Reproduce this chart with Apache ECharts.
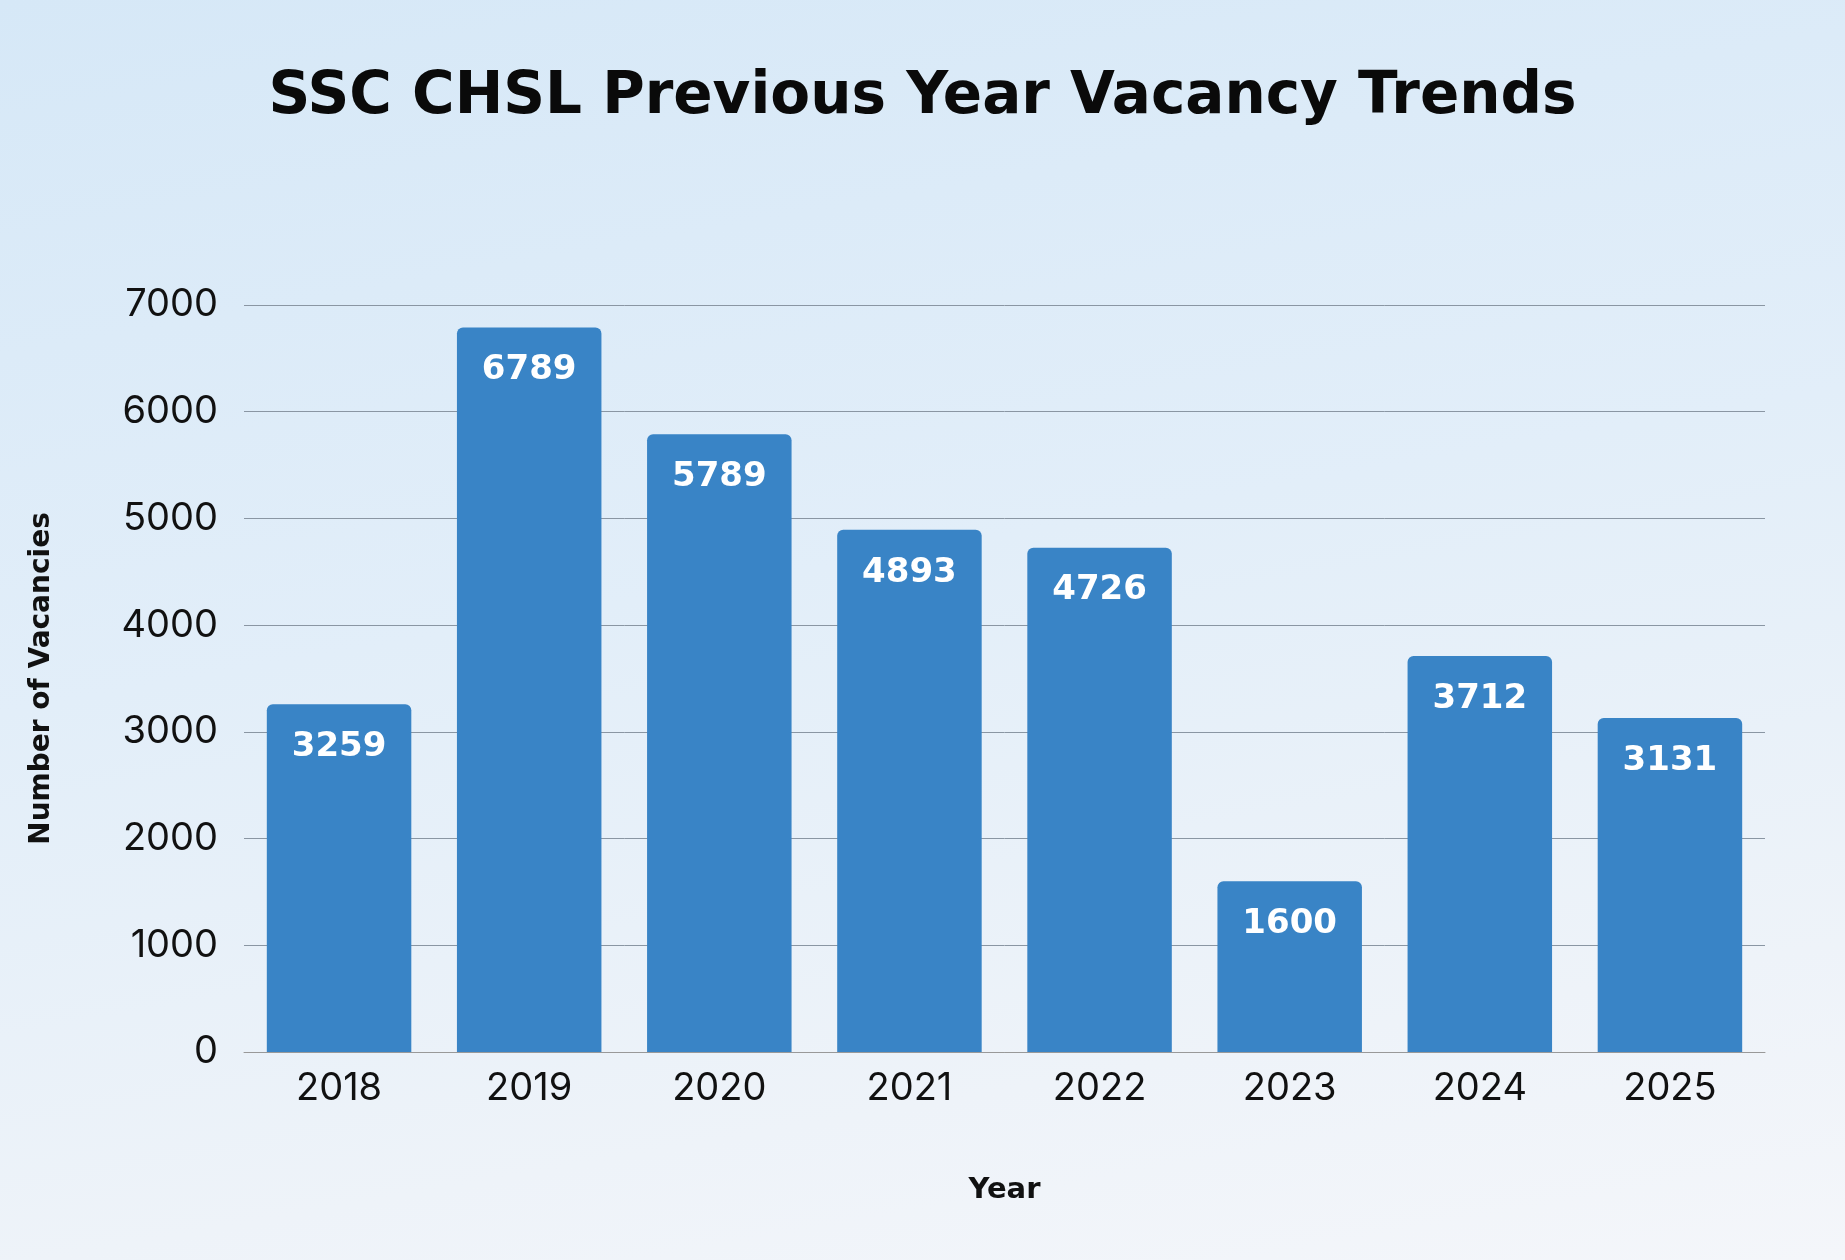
<!DOCTYPE html>
<html>
<head>
<meta charset="utf-8">
<script src="https://cdn.jsdelivr.net/npm/echarts@6/dist/echarts.min.js"></script>
<style>
  html, body { margin: 0; padding: 0; }
  #container {
    width: 1845px; height: 1260px;
    background: linear-gradient(170deg, #d6e8f7 0%, #e2eef9 45%, #eef3f9 80%, #f4f6fa 100%);
  }
</style>
</head>
<body>
<div id="container"></div>
<script>
var years = ['2018', '2019', '2020', '2021', '2022', '2023', '2024', '2025'];
var vacancies = [3259, 6789, 5789, 4893, 4726, 1600, 3712, 3131];

var myChart = echarts.init(document.getElementById('container'));

myChart.setOption({
    title: {
        text: 'SSC CHSL Previous Year Vacancy Trends',
        left: 'center',
        top: 64,
        textStyle: {
            fontFamily: 'DejaVu Sans',
            fontWeight: 'bold',
            fontSize: 58,
            color: '#0a0a0a'
        }
    },
    grid: {
        left: 244,
        right: 80,
        top: 305,
        bottom: 208
    },
    xAxis: {
        type: 'category',
        data: years,
        name: 'Year',
        nameLocation: 'middle',
        nameGap: 124,
        nameTextStyle: {
            fontFamily: 'DejaVu Sans',
            fontWeight: 'bold',
            fontSize: 29,
            color: '#111'
        },
        axisTick: { show: false },
        axisLine: { lineStyle: { color: '#999' } },
        axisLabel: {
            fontFamily: 'Inter',
            fontSize: 38,
            color: '#111',
            margin: 18
        }
    },
    yAxis: {
        type: 'value',
        min: 0,
        max: 7000,
        interval: 1000,
        name: 'Number of Vacancies',
        nameLocation: 'middle',
        nameGap: 188,
        nameTextStyle: {
            fontFamily: 'DejaVu Sans',
            fontWeight: 'bold',
            fontSize: 28,
            color: '#111'
        },
        axisLabel: {
            fontFamily: 'Inter',
            fontSize: 38,
            color: '#111',
            margin: 26,
            formatter: function (v) { return String(v); }
        },
        splitLine: { lineStyle: { color: '#8a96a3', width: 1 } }
    },
    series: [{
        type: 'bar',
        data: vacancies,
        barWidth: '76%',
        itemStyle: {
            color: '#3984c6',
            borderRadius: [6, 6, 0, 0]
        },
        label: {
            show: true,
            position: 'insideTop',
            distance: 26,
            color: '#fff',
            fontFamily: 'DejaVu Sans',
            fontWeight: 'bold',
            fontSize: 34
        }
    }]
});
</script>
</body>
</html>
